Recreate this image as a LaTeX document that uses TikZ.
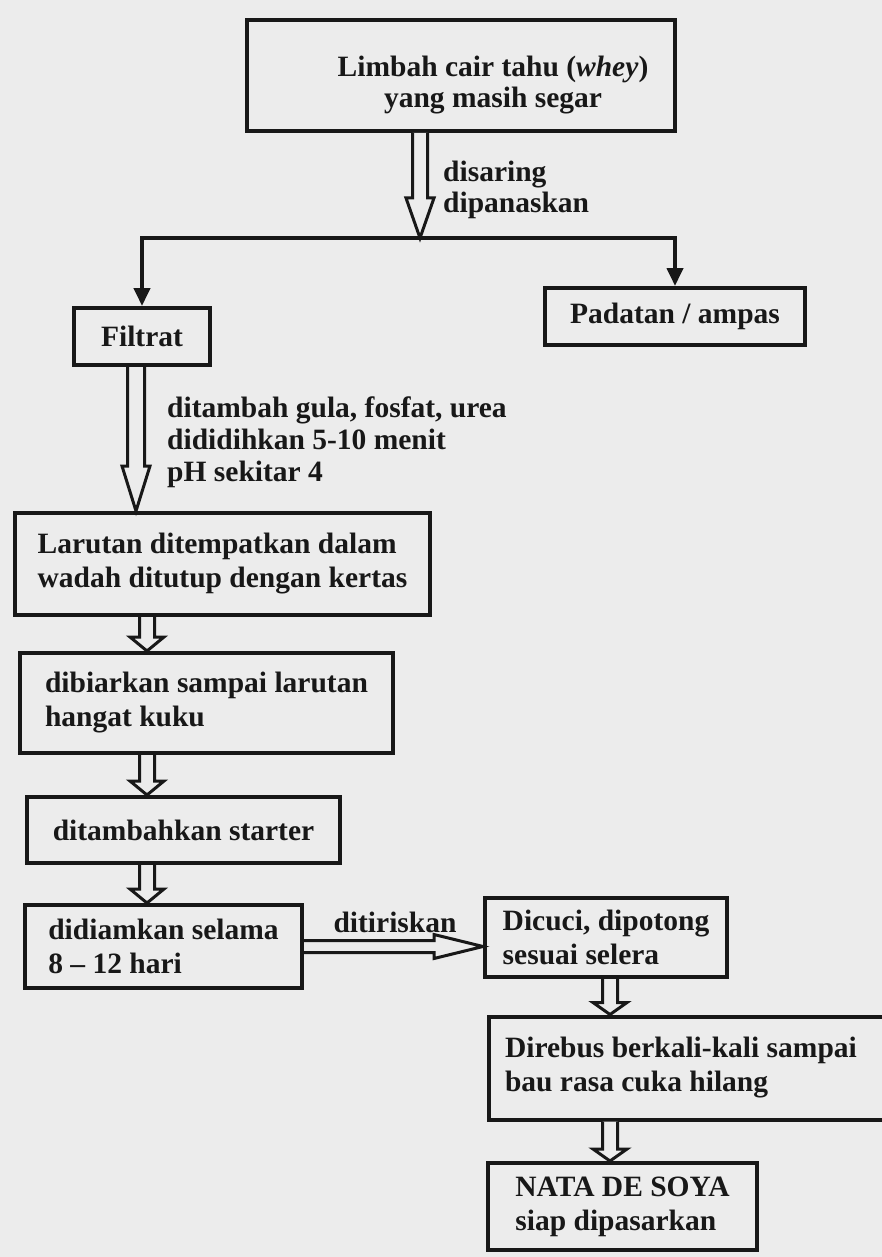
\documentclass[tikz,border=0pt]{standalone}
\usepackage{fontspec}
\setmainfont{Liberation Serif}
\usetikzlibrary{arrows.meta,calc,positioning}

\definecolor{paper}{RGB}{236,236,236}
\definecolor{ink}{RGB}{24,24,24}

\tikzset{
  box/.style={draw=ink, line width=4pt, align=left, inner sep=0pt, text=ink,
    font=\bfseries\fontsize{29.5}{34}\selectfont},
  txt/.style={align=left, inner sep=0pt, text=ink,
    font=\bfseries\fontsize{29.5}{31}\selectfont},
  branch/.style={draw=ink, line width=4pt, -{Triangle[width=16pt,length=18pt]}},
  shaft/.store in=\shaftw, headw/.store in=\headhw, headl/.store in=\headlen,
  shaft=7.5pt, headw=17pt, headl=14pt,
  hollow/.style={draw=ink, line width=3pt, fill=paper, line join=miter,
    to path={let \p1=(\tikztostart), \p2=(\tikztotarget) in
      (\x1-\shaftw,\y1) -- (\x1-\shaftw,\y2+\headlen) -- (\x1-\headhw,\y2+\headlen)
      -- (\x1,\y2) -- (\x1+\headhw,\y2+\headlen) -- (\x1+\shaftw,\y2+\headlen)
      -- (\x1+\shaftw,\y1)}},
  hollowright/.style={draw=ink, line width=3pt, fill=paper, line join=miter,
    to path={let \p1=(\tikztostart), \p2=(\tikztotarget) in
      (\x1,\y1+\shaftw) -- (\x2-\headlen,\y1+\shaftw) -- (\x2-\headlen,\y1+\headhw)
      -- (\x2,\y1) -- (\x2-\headlen,\y1-\headhw) -- (\x2-\headlen,\y1-\shaftw)
      -- (\x1,\y1-\shaftw)}}
}

\begin{document}
\begin{tikzpicture}[x=1pt, y=-1pt]
  \fill[paper] (0,0) rectangle (882,1257);
  \useasboundingbox (0,0) rectangle (882,1257);

  % Bahan awal
  \node[box, minimum width=428pt, minimum height=111pt] (limbah) at (461,75.5) {};
  \node[txt, align=center] (limbahtxt) at (493,85) {Limbah cair tahu (\textit{whey})\\yang masih segar};
  \coordinate (split) at (420,238);
  \draw[hollow, shaft=7.5pt, headw=14pt, headl=40pt] (limbah.south -| split) to (split);
  \node[txt, anchor=west] (saring) at (443,190) {disaring\\dipanaskan};

  % Pemisahan
  \node[box, minimum width=136pt, minimum height=57pt] (filtrat) at (142,336.5) {Filtrat};
  \node[box, minimum width=260pt, minimum height=57pt] (padatan) at (675,316.5) {Padatan / ampas};
  \draw[branch] (split) -| (filtrat);
  \draw[branch] (split) -| (padatan);

  % Pengolahan filtrat
  \node[txt, anchor=west, font=\bfseries\fontsize{29.5}{32}\selectfont] (tambah) at (167,442)
    {ditambah gula, fosfat, urea\\dididihkan 5-10 menit\\pH sekitar 4};
  \node[box, minimum width=415pt, minimum height=102pt] (larutan) at (222.5,564)
    {Larutan ditempatkan dalam\\wadah ditutup dengan kertas};
  \coordinate (spine1) at ([xshift=-6pt]filtrat.south);
  \draw[hollow, shaft=8.5pt, headw=14pt, headl=45pt] (spine1) to (spine1 |- larutan.north);

  \coordinate (spine) at (147,600);
  \node[box, minimum width=373pt, minimum height=100pt] (biarkan) at (206.5,703)
    {dibiarkan sampai larutan\\hangat kuku};
  \node[box, minimum width=313pt, minimum height=66pt] (starter) at (183.5,830) {ditambahkan starter};
  \node[box, minimum width=277pt, minimum height=83pt] (diamkan) at (163.5,946.5)
    {didiamkan selama\\8 -- 12 hari};
  \draw[hollow] (larutan.south -| spine) to (biarkan.north -| spine);
  \draw[hollow] (biarkan.south -| spine) to (starter.north -| spine);
  \draw[hollow] (starter.south -| spine) to (diamkan.north -| spine);

  % Hasil
  \node[box, minimum width=242pt, minimum height=79pt] (cuci) at (606,937.5) {Dicuci, dipotong\\sesuai selera};
  \draw[hollowright, shaft=6pt, headw=12pt, headl=49pt] (diamkan.east) to (diamkan.east -| cuci.west);
  \node[txt] (tiris) at (395,922) {ditiriskan};
  \node[box, anchor=west, align=flush left, text width=400pt, inner xsep=16pt, minimum height=103pt] (rebus) at (487,1068)
    {Direbus berkali-kali sampai\\bau rasa cuka hilang};
  \node[box, minimum width=269pt, minimum height=87pt] (nata) at (622.5,1206.5)
    {NATA DE SOYA\\siap dipasarkan};
  \coordinate (spine2) at (610,1000);
  \draw[hollow, headl=12pt] (cuci.south -| spine2) to (rebus.north -| spine2);
  \draw[hollow, headl=12pt] (rebus.south -| spine2) to (nata.north -| spine2);
\end{tikzpicture}
\end{document}
